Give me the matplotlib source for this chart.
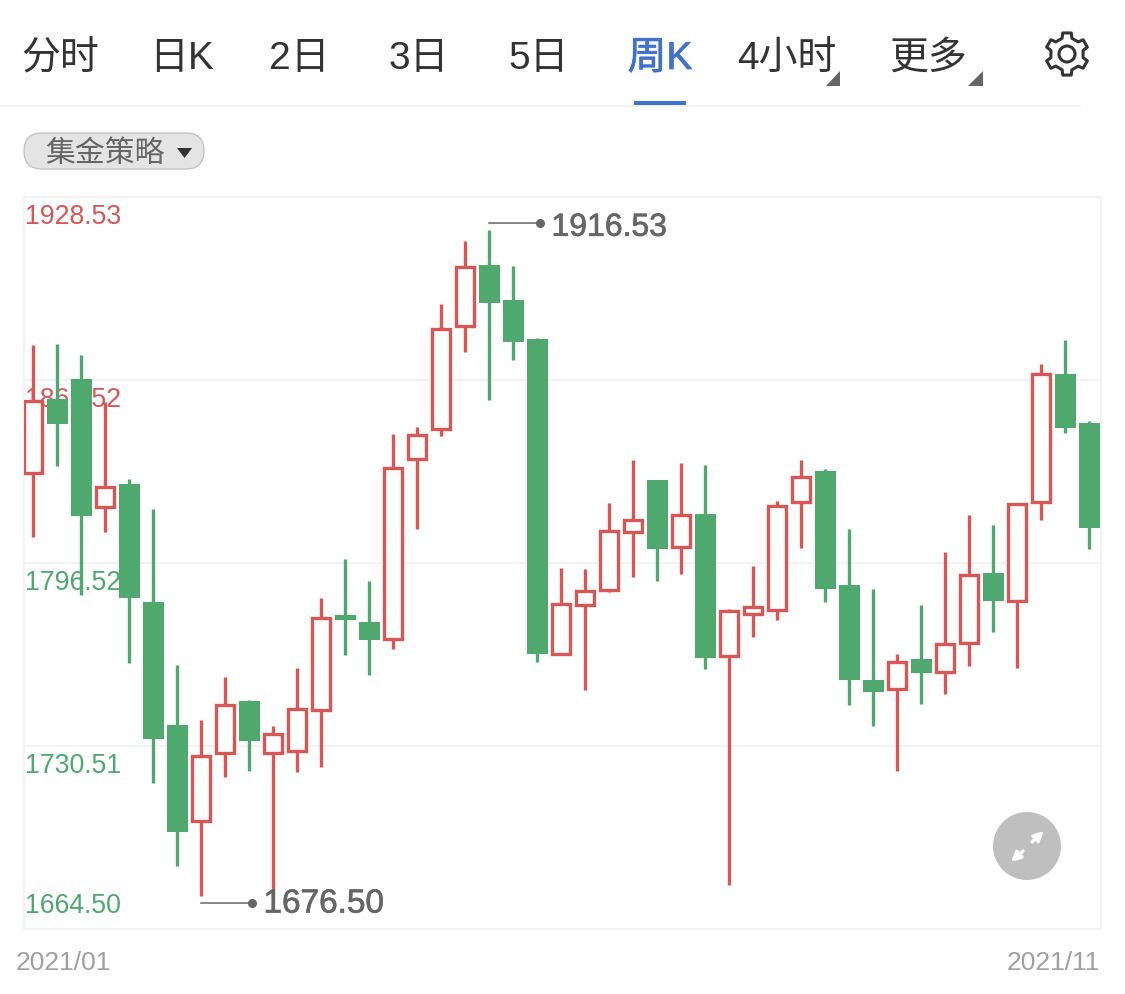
import numpy as np
import matplotlib
matplotlib.use("Agg")
import matplotlib.pyplot as plt
from matplotlib.patches import Circle, FancyBboxPatch, Polygon
import matplotlib.patheffects as pe

plt.rcParams['font.family'] = ['Liberation Sans', 'Noto Sans CJK SC', 'DejaVu Sans']

# weekly candles
highs = [1875.15, 1875.51, 1871.54, 1854.59, 1826.81, 1815.99, 1759.72, 1739.89, 1755.40, 1747.10,
         1737.72, 1758.64, 1783.89, 1797.96, 1790.02, 1843.05, 1845.57, 1889.94, 1912.66, 1916.53,
         1903.64, 1877.67, 1794.71, 1794.35, 1818.16, 1833.67, 1826.45, 1832.59, 1831.86, 1779.92,
         1795.43, 1818.88, 1833.67, 1830.42, 1808.78, 1787.14, 1763.69, 1781.37, 1800.48, 1813.83,
         1810.22, 1818.16, 1868.30, 1876.95, 1847.74]
lows = [1805.89, 1831.50, 1784.97, 1807.70, 1760.45, 1717.16, 1687.22, 1676.50, 1719.33, 1721.49,
        1678.57, 1721.13, 1722.93, 1763.33, 1756.12, 1765.50, 1808.78, 1842.32, 1872.62, 1855.31,
        1869.74, 1760.81, 1763.69, 1750.71, 1786.06, 1791.47, 1790.02, 1792.55, 1758.28, 1680.37,
        1769.82, 1775.96, 1801.93, 1782.45, 1745.30, 1737.72, 1721.49, 1745.66, 1749.26, 1759.36,
        1771.63, 1758.64, 1812.03, 1843.41, 1801.57]
opens = [1828.98, 1855.67, 1862.88, 1816.72, 1825.01, 1782.45, 1738.08, 1703.46, 1727.98, 1746.74,
         1727.98, 1728.70, 1743.49, 1777.76, 1775.23, 1769.10, 1834.03, 1844.85, 1882.00, 1904.00,
         1891.38, 1877.31, 1763.69, 1781.37, 1786.78, 1807.70, 1826.45, 1802.29, 1814.19, 1762.97,
         1778.12, 1779.56, 1818.52, 1829.70, 1788.58, 1754.31, 1751.07, 1761.89, 1757.20, 1767.66,
         1792.91, 1782.81, 1818.52, 1864.69, 1847.01]
closes = [1854.95, 1846.65, 1813.47, 1823.93, 1783.89, 1733.03, 1699.49, 1726.90, 1745.30, 1732.31,
          1734.84, 1743.85, 1776.68, 1775.96, 1768.74, 1830.78, 1842.69, 1880.92, 1903.28, 1890.30,
          1876.23, 1763.69, 1781.73, 1786.42, 1808.06, 1812.03, 1801.57, 1813.83, 1762.25, 1779.20,
          1780.64, 1817.08, 1827.54, 1787.14, 1754.31, 1749.99, 1760.81, 1756.84, 1767.30, 1792.19,
          1782.81, 1817.80, 1864.69, 1845.21, 1809.14]

price_levels = [1928.53, 1862.52, 1796.52, 1730.51, 1664.50]
price_labels = ['1928.53', '1862.52', '1796.52', '1730.51', '1664.50']
date_labels = ['2021/01', '2021/11']
tab_labels = ['分时', '日K', '2日', '3日', '5日', '周K', '4小时', '更多']
strategy_label = '集金策略'

RED = '#d75656'
GREEN = '#4fa96e'
BLUE = '#3f72d0'
W, H = 1125, 994

fig = plt.figure(figsize=(W / 100, H / 100), dpi=100, facecolor='white')

# chart area sits at 24..1101 / 197..929 px
ax = fig.add_axes([24 / W, 1 - 929 / H, 1077 / W, 732 / H])
ax.set_xlim(-0.375, 44.5)
ax.set_ylim(price_levels[-1], price_levels[0])
ax.set_xticks([])
ax.set_yticks(price_levels[1:-1])
ax.tick_params(axis='y', length=0, labelleft=False)
ax.set_axisbelow(True)
ax.grid(axis='y', color='#f3f3f3', lw=1.4)
for s in ax.spines.values():
    s.set_color('#f3f3f3')
    s.set_linewidth(1.5)

# price labels, the candles cover them
for i, (lev, lab) in enumerate(zip(price_levels, price_labels)):
    col = RED if i < 2 else GREEN
    if i == len(price_levels) - 1:
        ax.annotate(lab, xy=(0, lev), xycoords=('axes fraction', 'data'), xytext=(1, 10 * 0.72),
                    textcoords='offset points', va='bottom', ha='left', fontsize=19.2, color=col, zorder=1)
    else:
        ax.annotate(lab, xy=(0, lev), xycoords=('axes fraction', 'data'), xytext=(1, -7 * 0.72),
                    textcoords='offset points', va='top', ha='left', fontsize=19.2, color=col, zorder=1)

o = np.array(opens)
c = np.array(closes)
x = np.arange(len(o))
up = c >= o

ax.vlines(x[up], np.array(lows)[up], np.array(highs)[up], color=RED, lw=2.4, zorder=2)
ax.vlines(x[~up], np.array(lows)[~up], np.array(highs)[~up], color=GREEN, lw=2.4, zorder=2)
ax.bar(x[up], (c - o)[up], bottom=o[up], width=0.75, facecolor='white', edgecolor=RED, linewidth=2.4, zorder=3)
ax.bar(x[~up], (o - c)[~up], bottom=c[~up], width=0.875, color=GREEN, zorder=3)

# max / min callouts
hi_i = int(np.argmax(highs))
lo_i = int(np.argmin(lows))
for idx, val, off, txt_off, size in [(hi_i, highs[hi_i], 2.5, -1.6, 23), (lo_i, lows[lo_i], -2.5, -0.5, 24)]:
    ax.plot([idx, idx + 51 / 24], [val + off, val + off], color='#666666', lw=1.1, zorder=5)
    ax.plot([idx + 51 / 24], [val + off], 'o', color='#666666', ms=5.5, zorder=5)
    ax.text(idx + 62.5 / 24, val + off + txt_off, f'{val:.2f}', fontsize=size, color='#666666', va='center', ha='left', zorder=6,
            path_effects=[pe.withStroke(linewidth=0.5, foreground='#666666')])

# everything else is page furniture, drawn in pixels
ov = fig.add_axes([0, 0, 1, 1], facecolor='none')
ov.set_xlim(0, W)
ov.set_ylim(H, 0)
ov.axis('off')

tab_x = [60, 182, 299, 419, 539, 660, 787, 928]
for t, tx in zip(tab_labels, tab_x):
    active = t == '周K'
    ov.text(tx, 59, t, fontsize=28, ha='center', va='center', color=BLUE if active else '#333333',
            path_effects=[pe.withStroke(linewidth=0.5, foreground=BLUE)] if active else None)

ov.plot([0, 1080], [106, 106], color='#f2f2f2', lw=1.4)
ov.plot([634, 686], [103, 103], color=BLUE, lw=2.9, solid_capstyle='butt')
ov.add_patch(Polygon([(840, 71), (840, 86), (826, 86)], color='#666666', lw=0))
ov.add_patch(Polygon([(983, 71), (983, 86), (968, 86)], color='#666666', lw=0))

# gear icon
gx, gy = 1067, 54
pts = []
for k in range(6):
    a = np.pi / 2 + k * np.pi / 3
    for da, r in [(-0.30, 16.5), (-0.20, 21.5), (0.20, 21.5), (0.30, 16.5)]:
        pts.append((gx + r * np.cos(a + da), gy - r * np.sin(a + da)))
ov.add_patch(Polygon(pts, closed=True, fill=False, edgecolor='#333333', lw=2.2, joinstyle='round'))
ov.add_patch(Circle((gx, gy), 8, fill=False, edgecolor='#333333', lw=2.2))

# strategy pill
ov.add_patch(FancyBboxPatch((24, 133), 180, 36, boxstyle='round,pad=0,rounding_size=18',
                            facecolor='#e4e4e4', edgecolor='#c4c4c4', lw=1))
ov.text(105, 154, strategy_label, fontsize=21.5, ha='center', va='center', color='#666666')
ov.add_patch(Polygon([(177, 148), (192, 148), (184.5, 158)], color='#333333', lw=0))

# dates under the chart
ov.text(16, 963, date_labels[0], fontsize=19, ha='left', va='center', color='#a0a0a0')
ov.text(1100, 963, date_labels[1], fontsize=19, ha='right', va='center', color='#a0a0a0')

# expand button
ov.add_patch(Circle((1027, 846), 34, color='#bfbfbf', lw=0))
ov.annotate('', xy=(1044, 831), xytext=(1032, 842), arrowprops=dict(arrowstyle='-|>', color='white', lw=2.4, shrinkA=0, shrinkB=0, mutation_scale=14))
ov.annotate('', xy=(1011, 862), xytext=(1023, 851), arrowprops=dict(arrowstyle='-|>', color='white', lw=2.4, shrinkA=0, shrinkB=0, mutation_scale=14))

fig.savefig('out.png', dpi=100)
